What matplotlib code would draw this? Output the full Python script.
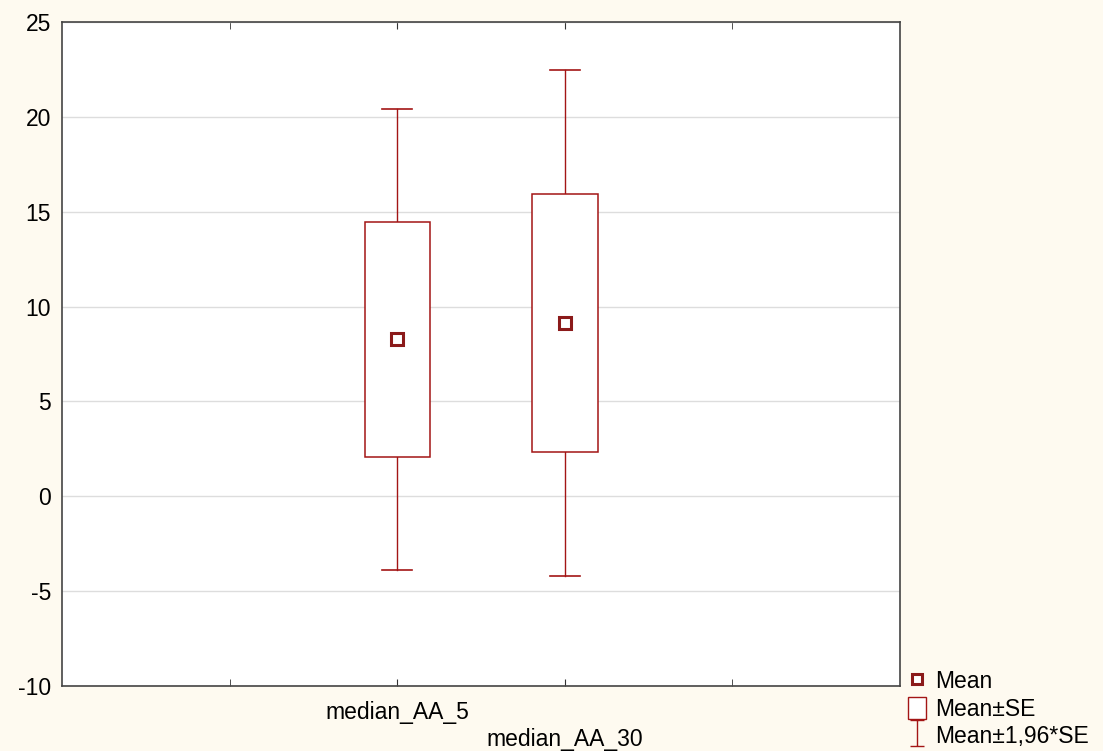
import matplotlib.pyplot as plt
from matplotlib.patches import Rectangle, Patch
from matplotlib.lines import Line2D
from matplotlib.path import Path

plt.rcParams['font.family'] = ['Liberation Sans', 'DejaVu Sans']
plt.rcParams['axes.unicode_minus'] = False

# data
labels = ['median_AA_5', 'median_AA_30']
means = [8.27, 9.13]
se = [6.2, 6.8]
ci = [12.15, 13.33]   # 1.96*SE half widths

positions = [2, 3]
box_w = 0.39
cap_w = 0.18
red = '#A31515'
dark = '#8B1A1A'
bg = '#FEFAF0'
fs = 16.5

fig = plt.figure(figsize=(11.03, 7.51), dpi=100, facecolor=bg)
ax = fig.add_axes([0.0562, 0.0866, 0.7598, 0.8841])
ax.set_facecolor('white')

for x, m, s, c in zip(positions, means, se, ci):
    # whiskers
    ax.plot([x, x], [m + s, m + c], color=red, lw=1, zorder=3)
    ax.plot([x, x], [m - s, m - c], color=red, lw=1, zorder=3)
    ax.plot([x - cap_w / 2, x + cap_w / 2], [m + c, m + c], color=red, lw=1.2, zorder=3)
    ax.plot([x - cap_w / 2, x + cap_w / 2], [m - c, m - c], color=red, lw=1.2, zorder=3)
    # box
    ax.add_patch(Rectangle((x - box_w / 2, m - s), box_w, 2 * s, facecolor='white',
                           edgecolor=red, lw=1.1, zorder=3))
    # mean
    ax.plot(x, m, marker='s', ms=8.5, mfc='white', mec=dark, mew=2.2, zorder=4)

ax.set_xlim(0, 5)
ax.set_ylim(-10, 25)
ax.set_yticks(range(-10, 26, 5))
ax.yaxis.grid(True, color='#DDDDDD', lw=1)
ax.set_axisbelow(True)

ax.set_xticks(positions)
ax.set_xticklabels([labels[0], '\n' + labels[1]], fontsize=fs, linespacing=1.2)
ax.set_xticks([1, 4], minor=True)
ax.tick_params(axis='x', which='both', direction='in', top=True, length=5,
               color='#333333', pad=11)
ax.tick_params(axis='y', length=0, labelsize=fs, pad=8)
for sp in ax.spines.values():
    sp.set_color('#444444')
    sp.set_linewidth(1.2)

ibeam = Path([(-0.5, -1), (0.5, -1), (0, -1), (0, 1), (-0.5, 1), (0.5, 1)],
             [Path.MOVETO, Path.LINETO, Path.MOVETO, Path.LINETO, Path.MOVETO, Path.LINETO])
handles = [
    Line2D([], [], marker='s', ms=7, mfc='white', mec=dark, mew=2.2, ls='none'),
    Patch(facecolor='white', edgecolor=red, lw=1),
    Line2D([], [], marker=ibeam, ms=19, mfc='none', mec=red, mew=1, ls='none'),
]
fig.legend(handles, ['Mean', 'Mean±SE', 'Mean±1,96*SE'], loc='lower left',
           bbox_to_anchor=(0.8145, -0.008), frameon=False, fontsize=fs,
           handlelength=0.8, handleheight=1.1, handletextpad=0.4, labelspacing=0.15,
           borderaxespad=0)

fig.savefig('out.png', dpi=100, facecolor=bg)
